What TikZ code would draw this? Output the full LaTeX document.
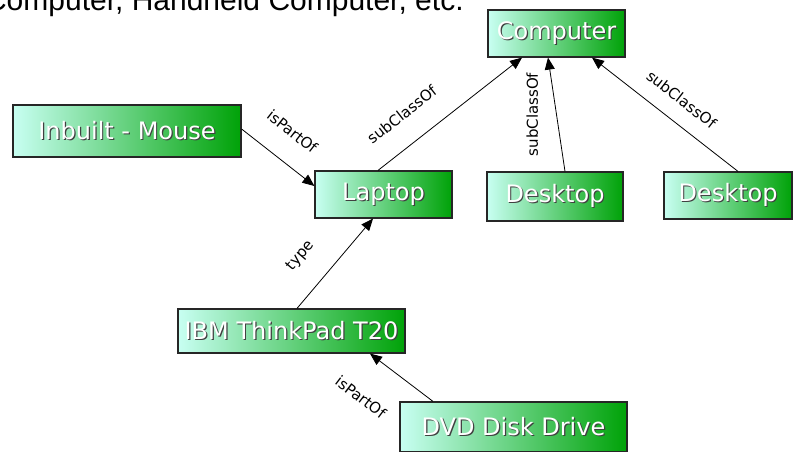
\documentclass[tikz,border=0pt]{standalone}
\usepackage{fontspec}
\setmainfont{DejaVu Sans}
\newfontfamily\titlefont{Liberation Sans}
\usetikzlibrary{arrows.meta,calc}
\definecolor{boxlight}{RGB}{200,255,242}
\definecolor{boxgreen}{RGB}{0,162,8}
\newcommand\shtext[1]{\makebox[0pt][l]{\hspace{0.6pt}\raisebox{-0.6pt}{\color{black!75}#1}}{\color{white}#1}}

\begin{document}
\begin{tikzpicture}[x=0.5pt,y=-0.5pt,>={Triangle[length=6pt,width=5pt]},
    box/.style={draw=black!85,line width=0.6pt,left color=boxlight,right color=boxgreen,inner sep=0pt,font=\fontsize{12}{14}\selectfont},
    lbl/.style={font=\fontsize{7.5}{9}\selectfont,inner sep=1pt}]
\useasboundingbox (0,0) rectangle (793,451);
\node[anchor=base west,font=\titlefont\fontsize{15}{18}\selectfont] (title) at (-22,10.5) {Computer, Handheld Computer, etc.};

\node[box,minimum width=68.5pt,minimum height=23.5pt] (comp) at (556.5,33.5) {\shtext{Computer}};
\node[box,minimum width=114pt,minimum height=26pt] (mouse) at (127,131) {\shtext{Inbuilt - Mouse}};
\node[box,minimum width=68.5pt,minimum height=23.5pt] (laptop) at (383.5,194.5) {\shtext{Laptop}};
\node[box,minimum width=68pt,minimum height=24.5pt] (desk1) at (555,196.5) {\shtext{Desktop}};
\node[box,minimum width=64pt,minimum height=23.5pt] (desk2) at (728,195.5) {\shtext{Desktop}};
\node[box,minimum width=113.5pt,minimum height=22pt] (ibm) at (291.5,331) {\shtext{IBM ThinkPad T20}};
\node[box,minimum width=113.5pt,minimum height=25pt] (dvd) at (513.5,427) {\shtext{DVD Disk Drive}};

\draw[->]($(mouse.east)+(0,-2)$)--node[lbl,pos=.45,sloped,above=10.5pt]{isPartOf}($(laptop.west)+(0,-8.5)$);
\draw[->]($(laptop.north)+(-5.5,0)$)--node[lbl,pos=.29,sloped,above=10.5pt]{subClassOf}($(comp.south)+(-34.5,0)$);
\draw[->]($(desk1.north)+(10,0)$)--node[lbl,midway,xshift=-8pt,rotate=90,anchor=south]{subClassOf}($(comp.south)+(-8.5,0)$);
\draw[->]($(desk2.north)+(10,0)$)--node[lbl,pos=.48,sloped,above=7pt]{subClassOf}($(comp.south)+(35.5,0)$);
\draw[->]($(ibm.north)+(5.5,0)$)--node[lbl,pos=.36,sloped,above=11pt]{type}($(laptop.south)+(-10.5,0)$);
\draw[->]($(dvd.north)+(-80.5,0)$)--node[lbl,pos=.76,sloped,below=16pt]{isPartOf}($(ibm.south)+(78.5,0)$);

\end{tikzpicture}
\end{document}
